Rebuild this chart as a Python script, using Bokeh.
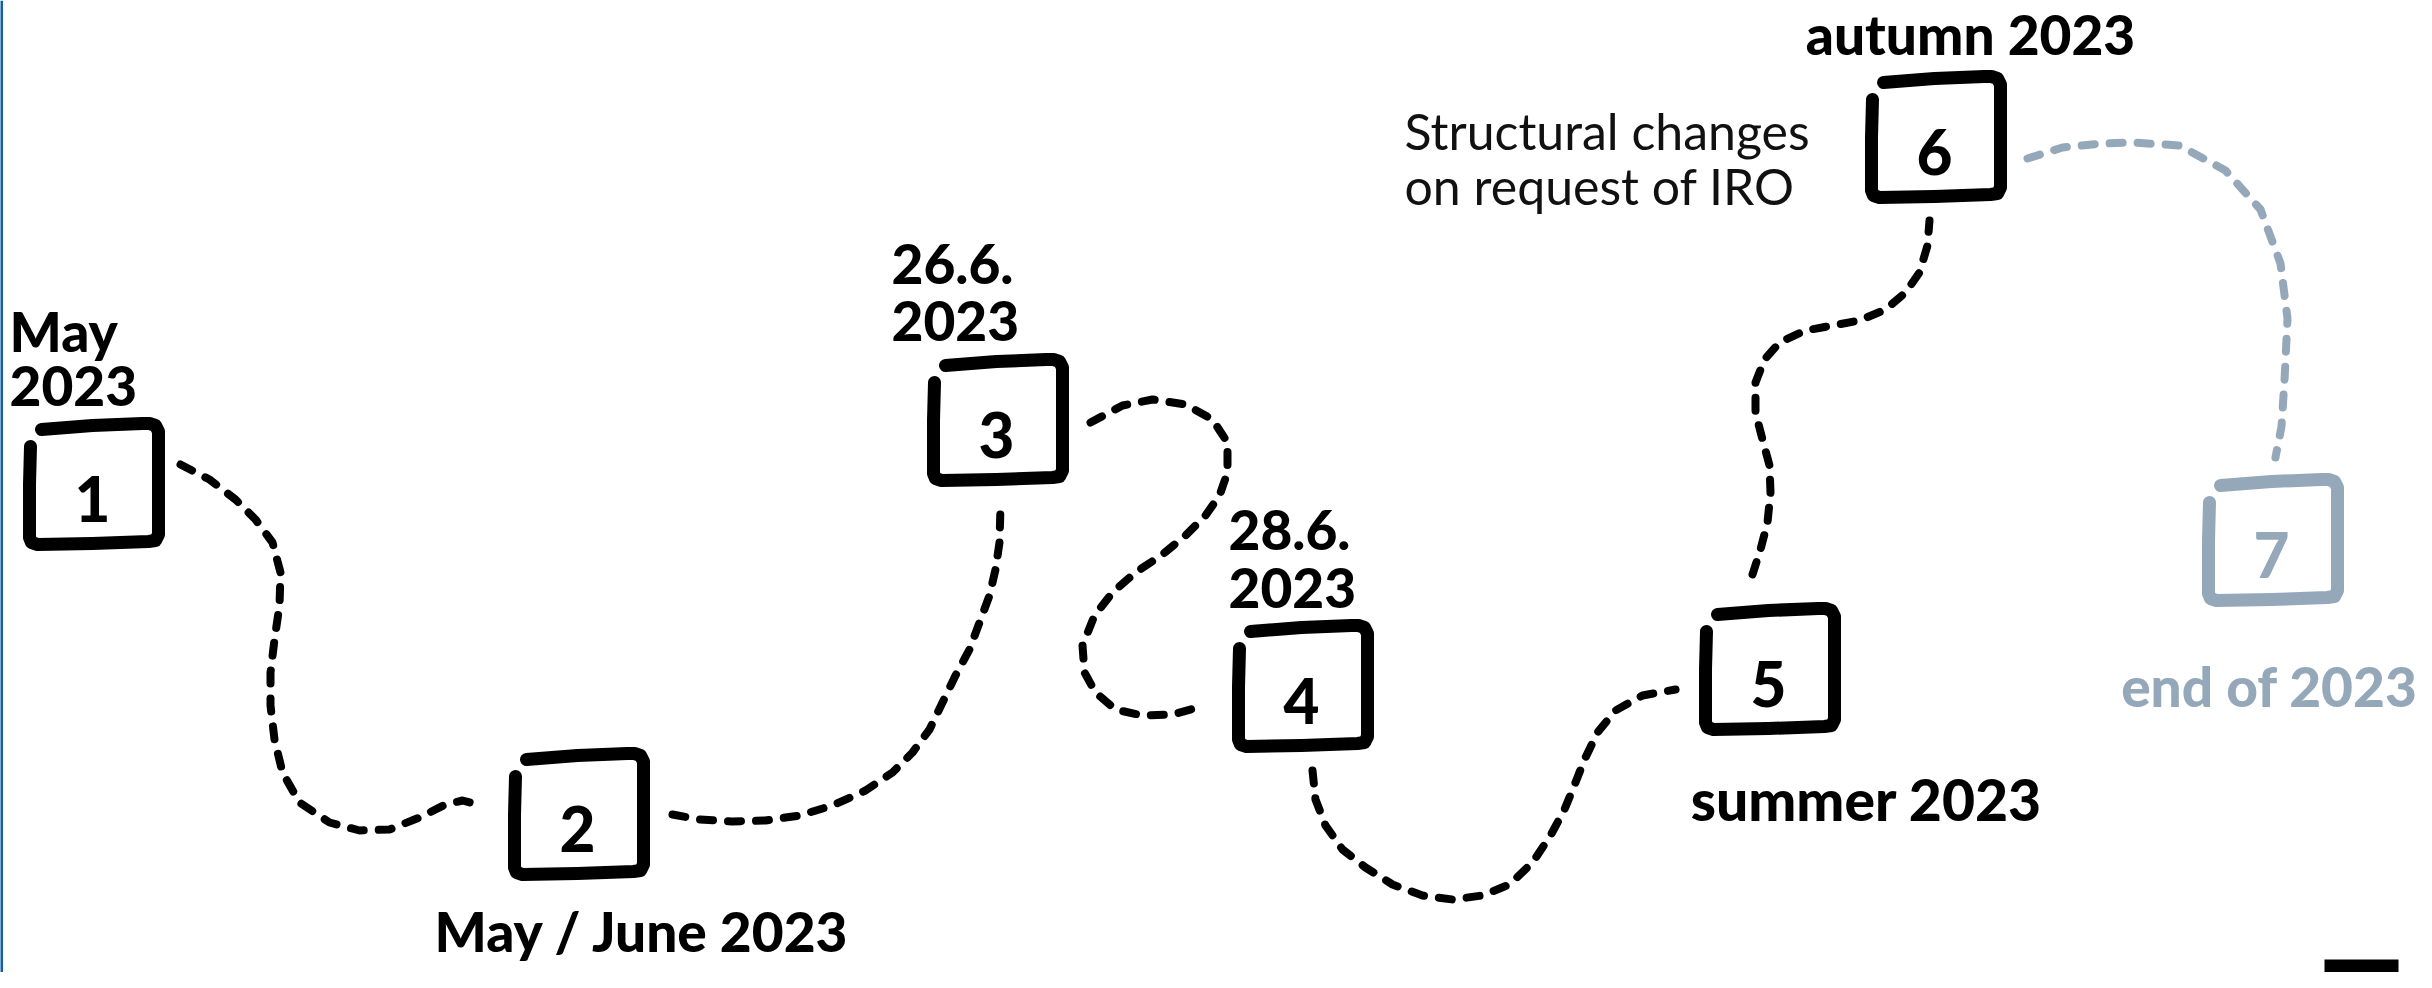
from bokeh.plotting import figure
from bokeh.models import Range1d, Span
from bokeh.core.properties import value
from bokeh.embed import file_html
from bokeh.resources import INLINE

# ---------------- data ----------------
steps = ["1", "2", "3", "4", "5", "6", "7"]
step_x = [100, 585, 1004, 1309, 1776, 1942, 2279]
step_y = [492, 822, 428, 694, 677, 145, 548]
step_planned = [False, False, False, False, False, False, True]
date_labels = [["May", "2023"], ["May / June 2023"], ["26.6.", "2023"], ["28.6.", "2023"],
               ["summer 2023"], ["autumn 2023"], ["end of 2023"]]
note_lines = ["Structural changes", "on request of IRO"]

path_1_2_x = [188, 217, 243, 263, 280, 288, 287, 282, 278, 278, 282, 290, 307, 337, 367, 397, 427, 453, 470, 488]
path_1_2_y = [472, 487, 507, 527, 550, 580, 613, 647, 680, 713, 747, 780, 810, 830, 838, 837, 825, 812, 808, 813]
path_2_3_x = [680, 707, 740, 773, 807, 840, 873, 900, 920, 937, 950, 963, 977, 987, 997, 1003, 1007, 1008]
path_2_3_y = [822, 827, 829, 828, 823, 813, 798, 780, 760, 737, 710, 683, 657, 630, 603, 577, 550, 513]
path_3_4_x = [1098, 1130, 1160, 1193, 1220, 1235, 1235, 1227, 1213, 1193, 1170, 1143, 1120, 1102, 1090, 1092, 1103, 1123, 1150, 1180, 1212]
path_3_4_y = [430, 413, 407, 412, 427, 450, 480, 503, 523, 543, 562, 580, 600, 623, 653, 680, 700, 717, 723, 722, 713]
path_4_5_x = [1320, 1323, 1333, 1350, 1373, 1400, 1430, 1460, 1490, 1517, 1540, 1558, 1572, 1583, 1592, 1605, 1623, 1650, 1683]
path_4_5_y = [778, 807, 833, 857, 875, 892, 903, 907, 903, 892, 870, 843, 817, 790, 767, 740, 718, 703, 697]
path_5_6_x = [1760, 1768, 1775, 1778, 1777, 1770, 1763, 1763, 1772, 1787, 1813, 1840, 1867, 1893, 1913, 1927, 1935, 1937]
path_5_6_y = [582, 557, 530, 500, 473, 447, 420, 390, 367, 350, 338, 333, 328, 317, 300, 280, 253, 228]
path_6_7_x = [2035, 2070, 2110, 2140, 2187, 2233, 2268, 2288, 2295, 2292, 2289, 2283]
path_6_7_y = [166, 155, 151, 150, 153, 178, 217, 271, 326, 388, 434, 465]

# ---------------- style ----------------
INK = "#000000"
GREY = "#95a8b9"
BOLD = "Lato Black"
REG = "Lato"
SHIFT = 0.24  # bokeh places the alphabetic baseline slightly low; compensate (fraction of em)

W, H = 2416, 972
p = figure(width=W, height=H, x_range=Range1d(8, 8 + W), y_range=Range1d(8 + H, 8),
           x_axis_type=None, y_axis_type=None, output_backend="svg",
           toolbar_location=None, min_border=0, outline_line_color=None,
           background_fill_color="white", border_fill_color="white")
p.grid.visible = False

# connectors
paths = [(path_1_2_x, path_1_2_y, INK), (path_2_3_x, path_2_3_y, INK), (path_3_4_x, path_3_4_y, INK),
         (path_4_5_x, path_4_5_y, INK), (path_5_6_x, path_5_6_y, INK), (path_6_7_x, path_6_7_y, GREY)]
for xs, ys, c in paths:
    p.line(xs, ys, line_color=c, line_width=8, line_dash="13 15", line_cap="round", line_join="round")

# hand-drawn boxes (shape relative to node centre)
box_dx = [-51, 0, 50, 57, 63, 66, 66, 63, 56, 0, -55, -61, -63, -63, -62]
box_dy = [-55, -59, -61, -61, -59, -53, 50, 56, 57, 59, 60, 58, 53, 0, -38]
bxs, bys, bcols = [], [], []
for cx, cy, planned in zip(step_x, step_y, step_planned):
    bxs.append([cx + d for d in box_dx])
    bys.append([cy + d for d in box_dy])
    bcols.append(GREY if planned else INK)
p.multi_line(bxs, bys, line_color=bcols, line_width=13, line_cap="round", line_join="round")

# step numbers
ncols = [GREY if pl else INK for pl in step_planned]
NUM = 62
p.text(step_x, [y + 29 - SHIFT * NUM for y in step_y], text=steps, text_color=ncols,
       text_font=value(BOLD), text_font_size=f"{NUM}px",
       text_align="center", text_baseline="alphabetic")

# date labels: (x, first baseline, line gap, align, size)
label_layout = [
    (17, 352, 55, "left", 55),
    (650, 952, 0, "center", 55),
    (899, 285, 57, "left", 55),
    (1236, 551, 58, "left", 55),
    (1874, 820, 0, "center", 57),
    (1978, 55, 0, "center", 55),
    (2277, 707, 0, "center", 55),
]
for lines, (lx, ly, gap, al, sz), planned in zip(date_labels, label_layout, step_planned):
    p.text([lx] * len(lines), [ly - SHIFT * sz + i * gap for i in range(len(lines))], text=lines,
           text_color=GREY if planned else INK, text_font=value(BOLD),
           text_font_size=f"{sz}px", text_align=al, text_baseline="alphabetic")

# note
NOTE = 50
p.text([1412, 1412], [150 - SHIFT * NOTE, 205 - SHIFT * NOTE], text=note_lines, text_color="#111111",
       text_font=value(REG), text_font_size=f"{NOTE}px", text_align="left", text_baseline="alphabetic")

# edge marks
p.add_layout(Span(location=9, dimension="height", line_color="#1060a8", line_width=3))
p.quad(left=[2332], right=[2406], top=[967], bottom=[990], fill_color="black", line_color=None)

open("out.html", "w").write(file_html(p, INLINE))
